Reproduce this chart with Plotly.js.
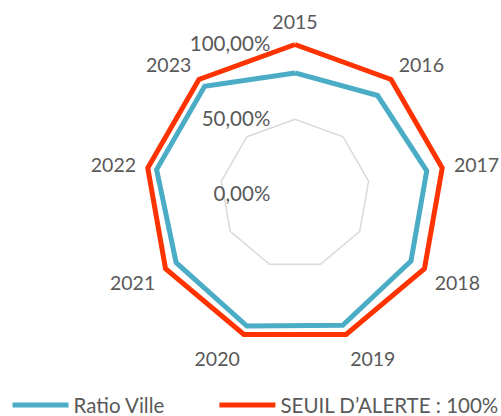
<!DOCTYPE html>
<html>
<head>
<meta charset="utf-8">
<script src="https://cdn.plot.ly/plotly-3.0.1.min.js"></script>
<style>html,body{margin:0;padding:0;background:#fff;}#chart{width:501px;height:416px;}</style>
</head>
<body>
<div id="chart"></div>
<script>
const categories = ["2015","2016","2017","2018","2019","2020","2021","2022","2023"];
const ratioVille = [0.81, 0.86, 0.895, 0.896, 0.934, 0.94, 0.918, 0.94, 0.94];
const seuil = [1, 1, 1, 1, 1, 1, 1, 1, 1];
const radialTicks = [0, 0.5, 1];
const seriesNames = ["Ratio Ville", "SEUIL D\u2019ALERTE : 100%"];

function closed(a){ return a.concat([a[0]]); }

const traces = [
  {type:'scatterpolar', mode:'lines', name:seriesNames[0], r:closed(ratioVille), theta:closed(categories),
   line:{color:'#4BACC6', width:5}, cliponaxis:false, hoverinfo:'skip', legend:'legend'},
  {type:'scatterpolar', mode:'lines', name:seriesNames[1], r:closed(seuil), theta:closed(categories),
   line:{color:'#FF3300', width:5}, cliponaxis:false, hoverinfo:'skip', legend:'legend2'}
];

const legendStyle = {orientation:'h', xanchor:'left', yanchor:'middle', font:{size:20.5, color:'#595959'}, itemwidth:56, bgcolor:'rgba(0,0,0,0)'};

const layout = {
  width:501, height:416,
  margin:{l:0,r:0,t:0,b:0, autoexpand:false},
  paper_bgcolor:'#fff',
  separators:', ',
  font:{family:'Lato, sans-serif', size:19, color:'#595959'},
  showlegend:true,
  legend:Object.assign({}, legendStyle, {x:0.015, y:0.026}),
  legend2:Object.assign({}, legendStyle, {x:0.428, y:0.026}),
  polar:{
    domain:{x:[0.2814,0.8962], y:[0.1635,0.9038]},
    bgcolor:'rgba(0,0,0,0)',
    gridshape:'linear',
    angularaxis:{type:'category', direction:'clockwise', rotation:90, showgrid:false, showline:false,
      ticks:'outside', ticklen:3, tickcolor:'rgba(0,0,0,0)', tickfont:{size:19.5,color:'#595959'}},
    radialaxis:{range:[0,1.03], tickvals:radialTicks, tickformat:'.2%', angle:90, side:'counterclockwise', showline:false,
      ticks:'outside', ticklen:17, tickcolor:'rgba(0,0,0,0)',
      gridcolor:'#D9D9D9', gridwidth:1.5, tickfont:{size:20.5,color:'#595959'}, tickangle:90}
  }
};
Plotly.newPlot('chart', traces, layout, {displayModeBar:false, staticPlot:true});
</script>
</body>
</html>
